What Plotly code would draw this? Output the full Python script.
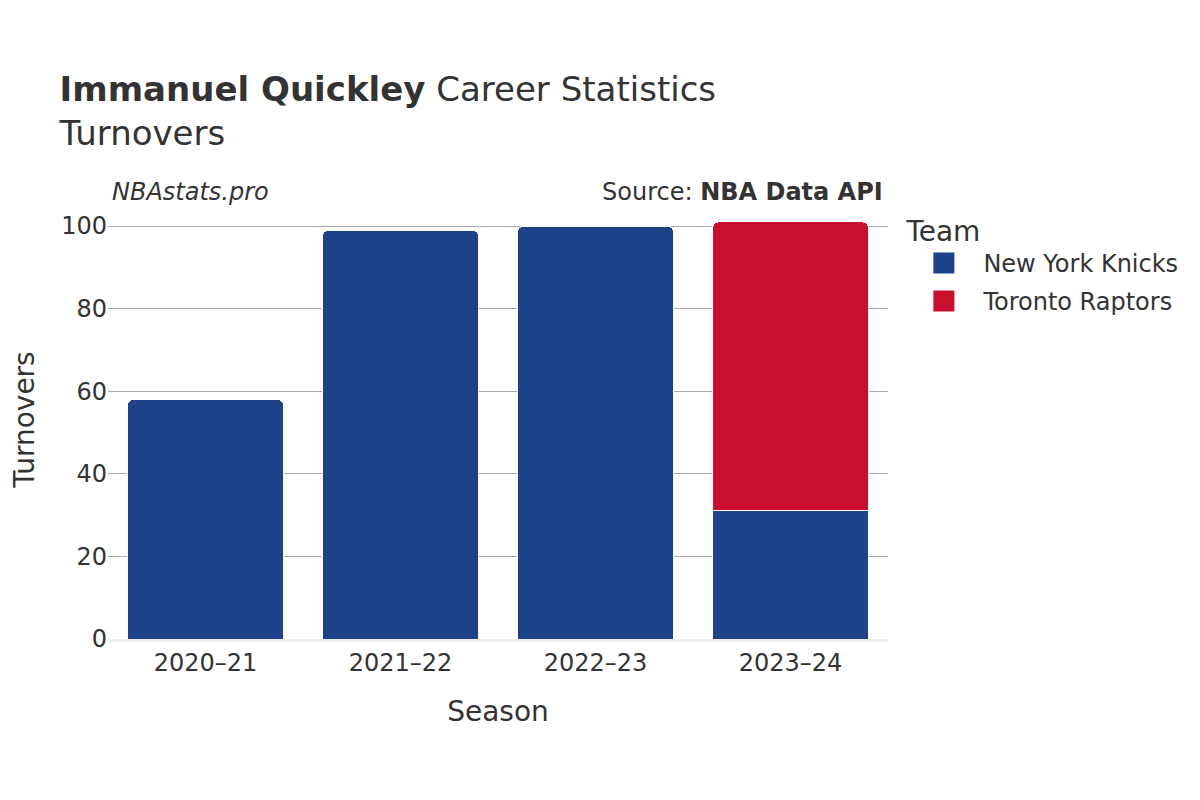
import plotly.graph_objects as go

seasons = ["2020–21", "2021–22", "2022–23", "2023–24"]
knicks = [58, 99, 100, 31]
raptors_seasons = ["2023–24"]
raptors = [70]

teams = ["New York Knicks", "Toronto Raptors"]
team_colors = ["#1D428A", "#C8102E"]

fig = go.Figure()
fig.add_trace(go.Bar(x=seasons, y=knicks, name=teams[0], showlegend=False,
                     marker=dict(color=team_colors[0], line=dict(color="#ffffff", width=1))))
fig.add_trace(go.Bar(x=raptors_seasons, y=raptors, name=teams[1], showlegend=False,
                     marker=dict(color=team_colors[1], line=dict(color="#ffffff", width=1))))
# legend-only entries with larger swatches
for name, col in zip(teams, team_colors):
    fig.add_trace(go.Scatter(x=[None], y=[None], mode="markers", name=name,
                             legendgroup=name,
                             marker=dict(symbol="square", size=17, color=col,
                                         line=dict(color=col, width=5))))

fig.update_layout(
    barmode="stack",
    barcornerradius=6,
    bargap=0.2,
    width=1200, height=800,
    font=dict(family="DejaVu Sans", color="#333333", size=24),
    plot_bgcolor="white", paper_bgcolor="white",
    margin=dict(l=100, r=320, t=192, b=169, autoexpand=False),
    title=dict(text="<b>Immanuel Quickley</b> Career Statistics<br>Turnovers",
               x=0.043, xanchor="left", y=0.884, yanchor="top",
               font=dict(size=34, color="#333333")),
    legend=dict(title=dict(text="Team", font=dict(size=28)), x=1.021, y=0.990,
                xanchor="left", yanchor="top", font=dict(size=24),
                traceorder="grouped", tracegroupgap=4, itemwidth=69),
    xaxis=dict(title=dict(text="Season", font=dict(size=28), standoff=26),
               showline=True, linecolor="#eeeeee", linewidth=3, ticks="",
               tickfont=dict(size=24), automargin=False),
    yaxis=dict(title=dict(text="Turnovers", font=dict(size=28), standoff=27),
               range=[0, 106.3], dtick=20, gridcolor="#aaaaaa", zeroline=False,
               tickfont=dict(size=24), automargin=False),
    annotations=[
        dict(text="<i>NBAstats.pro</i>", xref="paper", yref="paper", x=0.003, y=1.018,
             xanchor="left", yanchor="middle", showarrow=False, font=dict(size=24)),
        dict(text="Source: <b>NBA Data API</b>", xref="paper", yref="paper", x=0.996, y=1.018,
             xanchor="right", yanchor="middle", showarrow=False, font=dict(size=24)),
    ],
)

fig.write_html("out.html")
